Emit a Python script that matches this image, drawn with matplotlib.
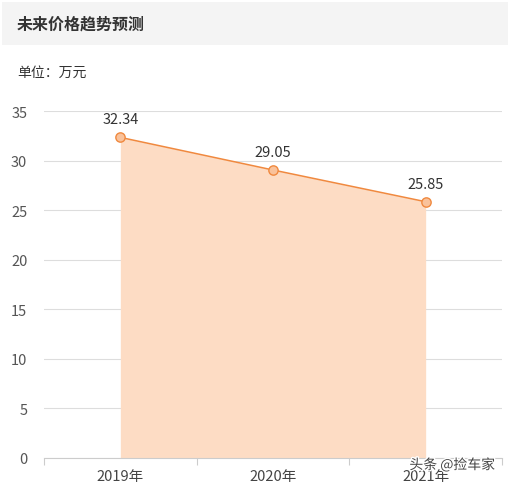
import matplotlib
matplotlib.use("Agg")
import matplotlib.pyplot as plt
from matplotlib.patches import Rectangle
import matplotlib.patheffects as pe

plt.rcParams['font.family'] = ['Noto Sans CJK SC', 'DejaVu Sans']

categories = ["2019年", "2020年", "2021年"]
prices = [32.34, 29.05, 25.85]
yticks = [0, 5, 10, 15, 20, 25, 30, 35]
title = "未来价格趋势预测"
unit = "单位：万元"
watermark = "头条 @捡车家"

W, H = 508, 489
fig = plt.figure(figsize=(W / 100, H / 100), dpi=100)
fig.patch.set_facecolor("white")

# title bar
fig.patches.append(Rectangle((2 / W, 1 - 46 / H), 506 / W, 43 / H,
                             transform=fig.transFigure, facecolor="#f4f4f4",
                             edgecolor="none", zorder=0))
fig.text(17 / W, 1 - 25 / H, title, fontsize=11.5, fontweight="bold",
         color="#333333", va="center", ha="left")
fig.text(17 / W, 1 - 73 / H, unit, fontsize=10, color="#333333",
         va="center", ha="left")

ax = fig.add_axes([44 / W, (H - 459) / H, (502 - 44) / W, (459 - 112) / H])
x = list(range(len(categories)))
ax.fill_between(x, prices, 0, color="#fddcc4", linewidth=0, zorder=2)
ax.plot(x, prices, color="#f0893f", linewidth=1.1, zorder=3)
ax.scatter(x, prices, s=45, facecolor="#f9c29b", edgecolor="#f0893f",
           linewidth=1, zorder=4)
for xi, v in zip(x, prices):
    ax.annotate(f"{v:.2f}", (xi, v), xytext=(0, 8), textcoords="offset points",
                ha="center", va="bottom", fontsize=10.5, color="#333333")

ax.set_xlim(-0.5, len(categories) - 0.5)
ax.set_ylim(0, 35)
ax.set_yticks(yticks)
ax.set_yticklabels([str(t) for t in yticks])
ax.set_xticks(x)
ax.set_xticklabels(categories)
ax.set_xticks([i - 0.5 for i in range(len(categories) + 1)], minor=True)
ax.tick_params(axis="x", which="major", length=0, pad=8, labelsize=10.5,
               labelcolor="#444444")
ax.tick_params(axis="x", which="minor", length=5, color="#cccccc", width=0.8)
ax.tick_params(axis="y", length=0, pad=12, labelsize=10.5, labelcolor="#555555")
ax.grid(axis="y", color="#dddddd", linewidth=0.8, zorder=1)
ax.set_axisbelow(True)
for s in ["top", "right", "left"]:
    ax.spines[s].set_visible(False)
ax.spines["bottom"].set_color("#cccccc")
ax.spines["bottom"].set_linewidth(0.8)
ax.spines["bottom"].set_zorder(5)

fig.text(495 / W, 1 - 466 / H, watermark, fontsize=10, color="#444444",
         ha="right", va="center",
         path_effects=[pe.withStroke(linewidth=2, foreground="white")])

fig.savefig("out.png", dpi=100)
